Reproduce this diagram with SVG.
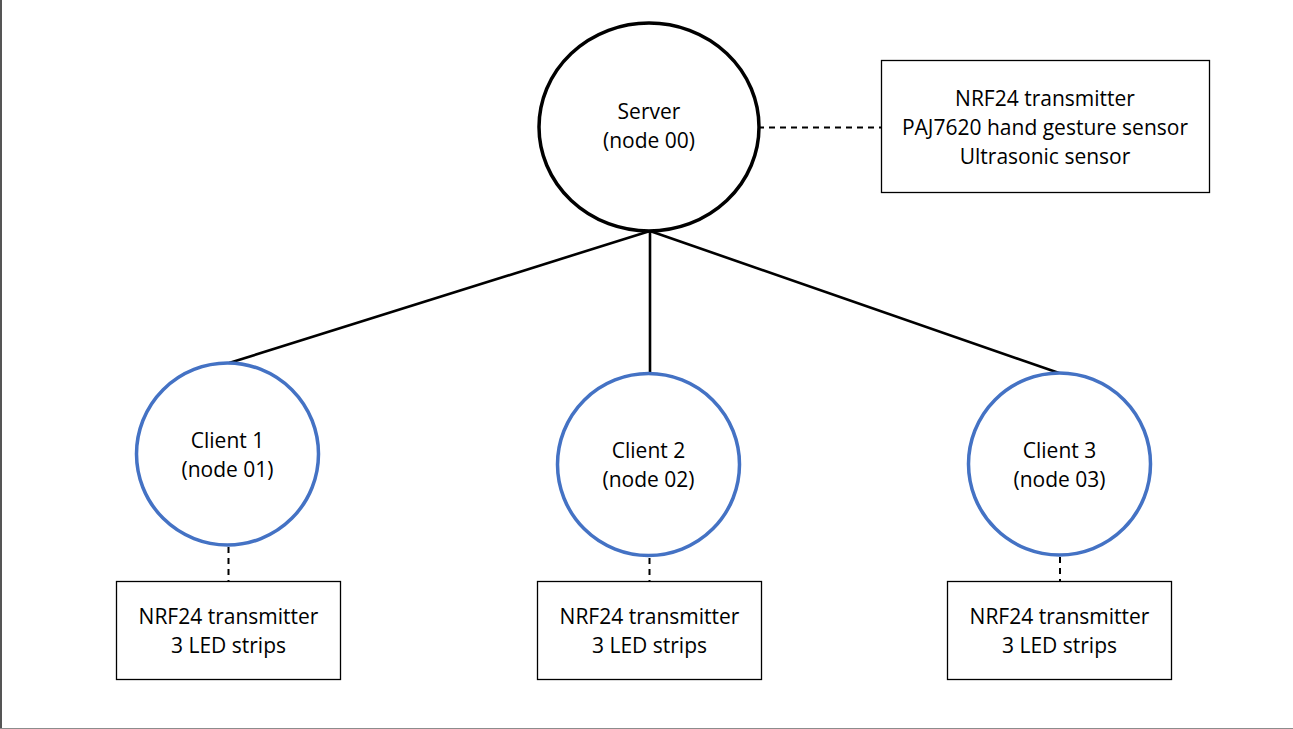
<svg xmlns="http://www.w3.org/2000/svg" width="1293" height="729" viewBox="0 0 1293 729">
<style>
.bg{fill:#ffffff}
.srv{fill:#ffffff;stroke:#000000;stroke-width:3.5}
.cli{fill:#ffffff;stroke:#4472C4;stroke-width:3.5}
.box{fill:#ffffff;stroke:#000000;stroke-width:1.3}
.edge{stroke:#000000;stroke-width:2.6;fill:none}
.dash{stroke:#000000;stroke-width:2;fill:none;stroke-dasharray:6 5}
text{font-family:"Open Sans","Liberation Sans",sans-serif;font-size:21px;fill:#000000;text-anchor:middle}
</style>
<rect class="bg" x="0" y="0" width="1293" height="729"/>
<line x1="1" y1="0" x2="1" y2="729" stroke="#555555" stroke-width="2"/>
<line x1="0" y1="728.5" x2="1293" y2="728.5" stroke="#8c8c8c" stroke-width="1"/>
<g id="connectors">
<line class="edge" x1="650" y1="231" x2="229" y2="363"/>
<line class="edge" x1="650" y1="231" x2="650" y2="373"/>
<line class="edge" x1="650" y1="231" x2="1059" y2="373"/>
<line class="dash" x1="758" y1="127.5" x2="881" y2="127.5"/>
<line class="dash" x1="228.5" y1="547" x2="228.5" y2="581"/>
<line class="dash" x1="649.5" y1="558" x2="649.5" y2="581"/>
<line class="dash" x1="1060" y1="557" x2="1060" y2="581"/>
</g>
<g id="server">
<ellipse class="srv" cx="649" cy="127" rx="110" ry="104"/>
<text x="649" y="119">Server</text>
<text x="649" y="148">(node 00)</text>
</g>
<g id="server-info">
<rect class="box" x="881.5" y="60.5" width="328" height="132"/>
<text x="1045" y="106">NRF24 transmitter</text>
<text x="1045" y="135">PAJ7620 hand gesture sensor</text>
<text x="1045" y="164">Ultrasonic sensor</text>
</g>
<g id="client1">
<circle class="cli" cx="227.5" cy="454" r="91"/>
<text x="227.5" y="448">Client 1</text>
<text x="227.5" y="477">(node 01)</text>
</g>
<g id="client2">
<circle class="cli" cx="648.5" cy="464.5" r="91"/>
<text x="648.5" y="458">Client 2</text>
<text x="648.5" y="487">(node 02)</text>
</g>
<g id="client3">
<circle class="cli" cx="1059.5" cy="464" r="91"/>
<text x="1059.5" y="458">Client 3</text>
<text x="1059.5" y="487">(node 03)</text>
</g>
<g id="client1-info">
<rect class="box" x="116.5" y="581.5" width="224" height="98"/>
<text x="228.5" y="624">NRF24 transmitter</text>
<text x="228.5" y="653">3 LED strips</text>
</g>
<g id="client2-info">
<rect class="box" x="537.5" y="581.5" width="224" height="98"/>
<text x="649.5" y="624">NRF24 transmitter</text>
<text x="649.5" y="653">3 LED strips</text>
</g>
<g id="client3-info">
<rect class="box" x="947.5" y="581.5" width="224" height="98"/>
<text x="1059.5" y="624">NRF24 transmitter</text>
<text x="1059.5" y="653">3 LED strips</text>
</g>
</svg>
